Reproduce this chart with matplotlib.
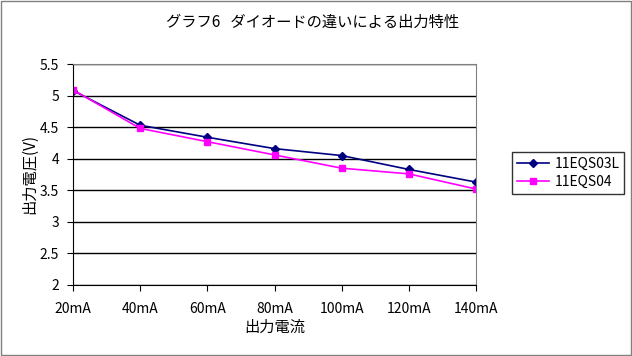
import matplotlib
matplotlib.use('Agg')
from matplotlib import pyplot as plt
from matplotlib.patches import Rectangle

plt.rcParams['font.family'] = ['Noto Sans CJK JP', 'DejaVu Sans']

currents = ['20mA', '40mA', '60mA', '80mA', '100mA', '120mA', '140mA']
v_03l = [5.08, 4.53, 4.34, 4.16, 4.05, 3.83, 3.63]   # 11EQS03L
v_04  = [5.09, 4.48, 4.27, 4.06, 3.85, 3.76, 3.52]   # 11EQS04

y_ticks = [2, 2.5, 3, 3.5, 4, 4.5, 5, 5.5]
y_text  = ['2', '2.5', '3', '3.5', '4', '4.5', '5', '5.5']

fig = plt.figure(figsize=(6.32, 3.56), dpi=100)
ax = fig.add_axes([73/632, 1-285/356, (476-73)/632, (285-64)/356])

x = list(range(len(currents)))
ax.plot(x, v_03l, color='#000080', marker='D', markersize=4, lw=1.2, label='11EQS03L')
ax.plot(x, v_04, color='#FF00FF', marker='s', markersize=5, lw=1.2, label='11EQS04')

ax.set_xlim(0, len(currents)-1)
ax.set_ylim(2, 5.5)
ax.set_xticks(x, currents)
ax.set_yticks(y_ticks, y_text)
ax.yaxis.grid(True, color='black', lw=1)
ax.set_axisbelow(True)
ax.tick_params(axis='both', labelsize=10, direction='out', length=4, color='black')
ax.tick_params(axis='x', pad=8)
ax.tick_params(axis='y', pad=6)
for s in ['top', 'right']:
    ax.spines[s].set_color('#808080')
for s in ['left', 'bottom']:
    ax.spines[s].set_color('black')

ax.set_xlabel('出力電流', fontsize=11, labelpad=2)
ax.set_ylabel('出力電圧(V)', fontsize=11, labelpad=1)
fig.text(313/632, 1-22/356, 'グラフ6   ダイオードの違いによる出力特性', ha='center', va='center', fontsize=11)

leg = fig.legend(loc='center', bbox_to_anchor=(568/632, 1-173/356), fontsize=10,
                 frameon=True, fancybox=False, edgecolor='black', borderpad=0.35,
                 handlelength=2.3, handletextpad=0.4, labelspacing=0.25)
leg.get_frame().set_linewidth(1)

fig.patches.append(Rectangle((0.001, 0.002), 0.997, 0.995, transform=fig.transFigure,
                             fill=False, edgecolor='#808080', lw=1))

plt.savefig('out.png', dpi=100)
